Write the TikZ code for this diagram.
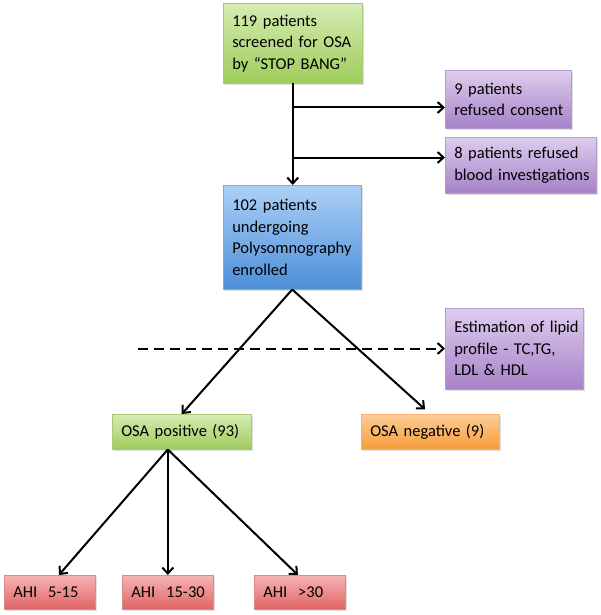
\documentclass[tikz,border=0pt]{standalone}
\usepackage{fontspec}
\setmainfont{Carlito}
\usetikzlibrary{arrows.meta,shadows,calc}
\definecolor{gtop}{HTML}{D6ECB2}\definecolor{gbot}{HTML}{9ECC5C}\definecolor{gbd}{HTML}{A9C87A}
\definecolor{ptop}{HTML}{DECDEE}\definecolor{pbot}{HTML}{A681C8}\definecolor{pbd}{HTML}{B59BD0}
\definecolor{btop}{HTML}{ACD0F6}\definecolor{bbot}{HTML}{4C8ED8}\definecolor{bbd}{HTML}{7FA9DC}
\definecolor{otop}{HTML}{FDCD98}\definecolor{obot}{HTML}{F79C3A}\definecolor{obd}{HTML}{F4B273}
\definecolor{rtop}{HTML}{F7B4B4}\definecolor{rbot}{HTML}{E06464}\definecolor{rbd}{HTML}{DE8A8A}
\tikzset{
  box/.style={anchor=north west, align=left, inner xsep=9pt, inner ysep=0pt,
    font=\fontsize{16.5}{21.5}\selectfont, line width=0.5pt,
    drop shadow={shadow xshift=2pt, shadow yshift=-2pt, opacity=0.25, fill=gray}},
  gbox/.style={box, draw=gbd, top color=gtop, bottom color=gbot},
  pbox/.style={box, draw=pbd, top color=ptop, bottom color=pbot},
  bbox/.style={box, draw=bbd, top color=btop, bottom color=bbot},
  obox/.style={box, draw=obd, top color=otop, bottom color=obot},
  rbox/.style={box, draw=rbd, top color=rtop, bottom color=rbot},
  arr/.style={line width=2pt, -{Straight Barb[length=6pt,width=11pt,line width=2pt]}},
  darr/.style={arr, dash pattern=on 10pt off 6pt}
}
\begin{document}
\begin{tikzpicture}[x=1pt,y=-1pt]
\useasboundingbox (0,0) rectangle (600,615);
\node[gbox, text width=121pt, minimum height=80pt] (screen) at (223,3)
  {\mbox{119 patients}\\\mbox{screened for OSA}\\\mbox{by “STOP BANG”}};
\node[pbox, text width=108pt, minimum height=58pt] (refc) at (445,70)
  {\mbox{9 patients}\\\mbox{refused consent}};
\node[pbox, text width=133pt, minimum height=56pt] (refb) at (445,137)
  {\mbox{8 patients refused}\\\mbox{blood investigations}};
\node[bbox, text width=120pt, minimum height=104pt] (poly) at (223,185)
  {\mbox{102 patients}\\\mbox{undergoing}\\\mbox{Polysomnography}\\\mbox{enrolled}};
\node[pbox, text width=120pt, minimum height=81pt] (lipid) at (445,308)
  {\mbox{Estimation of lipid}\\\mbox{profile - TC,TG,}\\\mbox{LDL \& HDL}};
\node[gbox, text width=121pt, minimum height=35pt] (pos) at (112,414)
  {\mbox{OSA positive (93)}};
\node[obox, text width=120pt, minimum height=35pt] (neg) at (361,414)
  {\mbox{OSA negative (9)}};
\node[rbox, text width=73pt, minimum height=34pt] (a1) at (4,575) {\mbox{AHI\ \ 5-15}};
\node[rbox, text width=73pt, minimum height=34pt] (a2) at (122,575) {\mbox{AHI\ \ 15-30}};
\node[rbox, text width=73pt, minimum height=34pt] (a3) at (254,575) {\mbox{AHI\ \ >30}};

\draw[arr] (screen.south) -- (screen.south |- poly.north);
\coordinate (c1) at ($(screen.south)+(0,24)$);
\coordinate (c2) at ($(screen.south)+(0,74)$);
\draw[arr] (c1) -- (c1 -| refc.west);
\draw[arr] (c2) -- (c2 -| refb.west);
\coordinate (ds) at (138,348.5);
\draw[darr] (ds) -- (ds -| lipid.west);
\draw[arr] (poly.south) -- (pos.north);
\draw[arr, shorten >=7pt] (poly.south) -- (neg.north);
\coordinate (ps) at ($(pos.south west)!0.4!(pos.south east)$);
\draw[arr] (ps) -- ($(a1.north west)!0.6!(a1.north east)$);
\draw[arr] (ps) -- (ps |- a2.north);
\draw[arr] (ps) -- ($(a3.north west)!0.48!(a3.north east)$);
\end{tikzpicture}
\end{document}
